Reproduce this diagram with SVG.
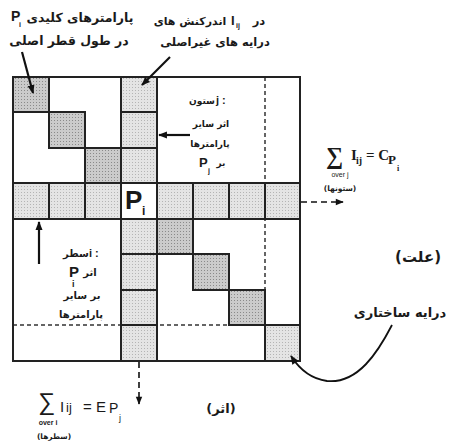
<svg xmlns="http://www.w3.org/2000/svg" width="453" height="446" viewBox="0 0 453 446">
<defs>
<pattern id="dk" width="3" height="3" patternUnits="userSpaceOnUse"><rect width="3" height="3" fill="#cbcbcb"/><rect width="1" height="1" fill="#8a8a8a"/></pattern>
<pattern id="lt" width="3" height="3" patternUnits="userSpaceOnUse"><rect width="3" height="3" fill="#e4e4e4"/><rect width="1" height="1" fill="#b4b4b4"/></pattern>
<marker id="ah" viewBox="0 0 10 10" refX="9" refY="5" markerWidth="4" markerHeight="4" orient="auto" markerUnits="strokeWidth"><path d="M0,1 L10,5 L0,9 Z" fill="#111"/></marker>
<marker id="ahs" viewBox="0 0 10 10" refX="9" refY="5" markerWidth="7" markerHeight="5" orient="auto" markerUnits="strokeWidth"><path d="M0,1 L10,5 L0,9 Z" fill="#111"/></marker>
<style>
.fa{font-family:"DejaVu Sans",sans-serif;font-weight:bold;fill:#1a1a1a;text-anchor:middle}
.ln{stroke:#222;stroke-width:2;fill:none}
.dash{stroke:#333;stroke-width:1.5;stroke-dasharray:4 3;fill:none}
.arr{stroke:#111;stroke-width:2.2;fill:none;marker-end:url(#ah)}
.darr{stroke:#111;stroke-width:1.6;stroke-dasharray:6 4;fill:none;marker-end:url(#ahs)}
.dk{fill:url(#dk)}
.lt{fill:url(#lt)}
.sr{font-family:"Liberation Serif",serif;font-weight:bold;fill:#1a1a1a}
.sn{font-family:"Liberation Sans",sans-serif;fill:#1a1a1a}
.lb{font-family:"Liberation Sans",sans-serif;font-weight:bold;fill:#1a1a1a}
</style>
</defs>
<rect width="453" height="446" fill="#fff"/>

<g id="matrix">
<g id="cells">
<rect class="dk" x="13" y="77" width="36" height="35"/>
<rect class="dk" x="49" y="112" width="36" height="36"/>
<rect class="dk" x="85" y="148" width="36" height="35"/>
<rect class="dk" x="157" y="219" width="36" height="35"/>
<rect class="dk" x="193" y="254" width="36" height="36"/>
<rect class="dk" x="229" y="290" width="36" height="35"/>
<rect class="lt" x="265" y="325" width="35" height="36"/>
<rect class="lt" x="121" y="77" width="36" height="106"/>
<rect class="lt" x="121" y="219" width="36" height="142"/>
<rect class="lt" x="13" y="183" width="108" height="36"/>
<rect class="lt" x="157" y="183" width="143" height="36"/>
</g>
<g id="dashed-lines">
<line class="dash" x1="265" y1="77" x2="265" y2="361"/>
<line class="dash" x1="13" y1="325" x2="300" y2="325"/>
</g>
<g id="grid-lines">
<rect class="ln" x="13" y="77" width="287" height="284"/>
<line class="ln" x1="121" y1="77" x2="121" y2="361"/>
<line class="ln" x1="157" y1="77" x2="157" y2="361"/>
<line class="ln" x1="13" y1="183" x2="300" y2="183"/>
<line class="ln" x1="13" y1="219" x2="300" y2="219"/>
<path class="ln" d="M121,112H157M121,148H157M121,254H157M121,290H157M121,325H157"/>
<path class="ln" d="M49,183V219M85,183V219M193,183V219M229,183V219M265,183V219"/>
<rect class="ln" x="13" y="77" width="36" height="35"/>
<rect class="ln" x="49" y="112" width="36" height="36"/>
<rect class="ln" x="85" y="148" width="36" height="35"/>
<rect class="ln" x="157" y="219" width="36" height="35"/>
<rect class="ln" x="193" y="254" width="36" height="36"/>
<rect class="ln" x="229" y="290" width="36" height="35"/>
<path class="ln" d="M265,325V361M265,325H300" stroke-width="1.5"/>
</g>
<g id="pi-cell">
<text x="125" y="209" class="lb" font-size="26">P</text>
<text x="142" y="215" class="lb" font-size="12">i</text>
</g>
</g>

<g id="label-diagonal">
<text class="fa" x="80" y="22" font-size="12.5">پارامترهای کلیدی</text>
<text x="11" y="21" class="lb" font-size="14">P</text>
<text x="19" y="27" class="lb" font-size="7">i</text>
<text class="fa" x="69" y="45" font-size="12.5">در طول قطر اصلی</text>
</g>

<g id="label-offdiagonal">
<text class="fa" x="190" y="25" font-size="11">اندرکنش های</text>
<text x="231" y="25" class="lb" font-size="13">I</text>
<text x="236" y="28" class="lb" font-size="7">ij</text>
<text class="fa" x="259" y="25" font-size="11.5">در</text>
<text class="fa" x="215" y="46" font-size="11.5">درایه های غیراصلی</text>
</g>

<g id="label-column">
<text class="fa" x="202" y="104" font-size="9">ستون</text>
<text x="216" y="104" class="lb" font-size="11">j :</text>
<text class="fa" x="211" y="127" font-size="9">اثر سایر</text>
<text class="fa" x="210" y="147" font-size="9">پارامترها</text>
<text class="fa" x="221" y="166" font-size="9">بر</text>
<text x="199" y="167" class="lb" font-size="13">P</text>
<text x="208" y="173" class="lb" font-size="7">j</text>
</g>

<g id="label-row">
<text class="fa" x="76" y="257" font-size="10">سطر</text>
<text x="89" y="257" class="lb" font-size="11">i :</text>
<text class="fa" x="90" y="276" font-size="10">اثر</text>
<text x="69" y="277" class="lb" font-size="15">P</text>
<text x="72" y="287" class="lb" font-size="9">i</text>
<text class="fa" x="82" y="299" font-size="10">بر سایر</text>
<text class="fa" x="81" y="318" font-size="10">پارامترها</text>
</g>

<g id="label-cause-formula">
<text x="326" y="164" class="sr" font-size="24">∑</text>
<text x="351" y="160" class="sr" font-size="15">I</text>
<text x="356" y="164" class="sr" font-size="10">ij</text>
<text x="366" y="160" class="sr" font-size="15">= C</text>
<text x="388" y="164" class="sr" font-size="13">P</text>
<text x="397" y="171" class="sr" font-size="8">i</text>
<text x="340" y="177" class="sn" font-size="7" text-anchor="middle">over j</text>
<text class="fa" x="340" y="191" font-size="7.5" font-weight="normal">(ستونها)</text>
</g>

<g id="label-cause">
<text class="fa" x="418" y="262" font-size="15">(علت)</text>
</g>

<g id="label-structural">
<text class="fa" x="400" y="317" font-size="13">درایه ساختاری</text>
</g>

<g id="label-effect">
<text class="fa" x="221" y="413" font-size="13">(اثر)</text>
</g>

<g id="label-effect-formula">
<text x="38" y="410" class="sn" font-size="24">∑</text>
<text x="60" y="412" class="sn" font-size="15">I</text>
<text x="66" y="412" class="sn" font-size="13">ij</text>
<text x="83" y="412" class="sn" font-size="15">= E</text>
<text x="109" y="413" class="sn" font-size="14">P</text>
<text x="119" y="421" class="sn" font-size="9">j</text>
<text x="48" y="425" class="lb" font-size="7" text-anchor="middle">over i</text>
<text class="fa" x="54" y="439" font-size="7.5" font-weight="normal">(سطرها)</text>
</g>

<g id="connectors">
<line class="arr" x1="22" y1="52" x2="33" y2="93"/>
<line class="arr" x1="170" y1="57" x2="142" y2="85"/>
<line class="arr" x1="190" y1="135" x2="159" y2="135"/>
<line class="arr" x1="39" y1="264" x2="39" y2="222"/>
<line class="darr" x1="301" y1="202" x2="343" y2="202"/>
<line class="darr" x1="139" y1="362" x2="139" y2="404"/>
<path d="M392,325 C378,352 358,384 327,381 C312,379 300,370 291,356" stroke="#111" stroke-width="1.8" fill="none" marker-end="url(#ahs)"/>
</g>
</svg>
